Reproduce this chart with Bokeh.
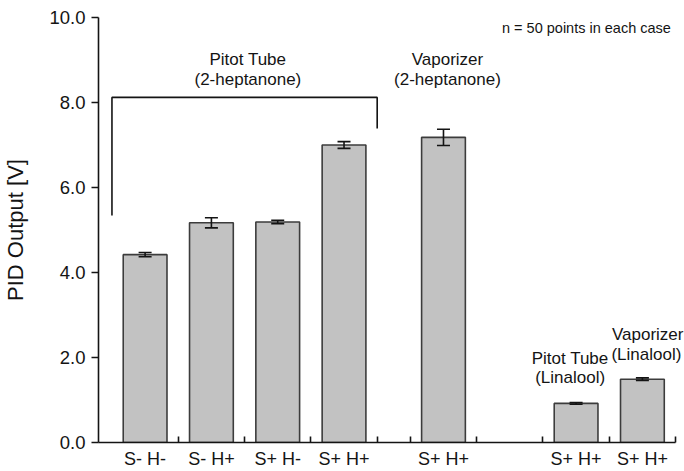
from bokeh.plotting import figure
from bokeh.models import ColumnDataSource, FixedTicker, Whisker, TeeHead, Range1d, Label
from bokeh.embed import file_html
from bokeh.resources import INLINE

# Measurement conditions and PID readings (mean and error)
conditions = ["S- H-", "S- H+", "S+ H-", "S+ H+", "S+ H+", "S+ H+", "S+ H+"]
positions = [0.5, 1.5, 2.5, 3.5, 5.0, 7.0, 8.0]
pid_mean = [4.42, 5.17, 5.19, 7.00, 7.18, 0.92, 1.49]
pid_err = [0.05, 0.12, 0.04, 0.08, 0.19, 0.02, 0.03]

# Group separators along the x axis
separators = [1, 2, 3, 4, 4.5, 5.5, 6.5, 7.5, 8.5]
y_ticks = [0, 2, 4, 6, 8, 10]

FONT = "Liberation Sans"
INK = "#141414"

src = ColumnDataSource(dict(
    x=positions,
    top=pid_mean,
    lower=[m - e for m, e in zip(pid_mean, pid_err)],
    upper=[m + e for m, e in zip(pid_mean, pid_err)],
))

p = figure(width=684, height=471, output_backend="svg", toolbar_location=None,
           x_range=Range1d(-0.203, 8.635), y_range=Range1d(0, 10),
           min_border_left=97, min_border_right=0, min_border_top=17,
           min_border_bottom=29)
p.outline_line_color = None
p.xgrid.visible = False
p.ygrid.visible = False
p.background_fill_color = "white"

p.vbar(x="x", top="top", width=0.66, bottom=0, source=src,
       fill_color="#c2c2c2", line_color="#3c3c3c", line_width=1.6)

whisker = Whisker(base="x", lower="lower", upper="upper", source=src, level="overlay",
                  line_color=INK, line_width=1.6,
                  upper_head=TeeHead(size=13, line_color=INK, line_width=1.6),
                  lower_head=TeeHead(size=13, line_color=INK, line_width=1.6))
p.add_layout(whisker)

# Bracket grouping the Pitot tube runs
p.line([0.0, 0.0, 4.0, 4.0], [5.34, 8.12, 8.12, 7.39], line_color=INK, line_width=1.6)

# Group annotations
def label(x, y, txt, size="17px", align="center"):
    p.add_layout(Label(x=x, y=y, text=txt, text_font=FONT, text_font_size=size,
                       text_color=INK, text_align=align, text_baseline="middle"))

label(2.05, 9.01, "Pitot Tube")
label(2.05, 8.55, "(2-heptanone)")
label(5.06, 9.01, "Vaporizer")
label(5.06, 8.55, "(2-heptanone)")
label(6.91, 1.98, "Pitot Tube")
label(6.91, 1.53, "(Linalool)")
label(8.08, 2.53, "Vaporizer")
label(8.06, 2.08, "(Linalool)")
label(8.43, 9.76, "n = 50 points in each case", size="14.5px", align="right")

# Axes
xa = p.xaxis[0]
xa.bounds = (-0.203, 8.5)
xa.ticker = FixedTicker(ticks=positions, minor_ticks=separators)
xa.major_label_overrides = {pos: lab for pos, lab in zip(positions, conditions)}
xa.major_tick_in = 0
xa.major_tick_out = 0
xa.minor_tick_in = 6
xa.minor_tick_out = 0
xa.minor_tick_line_color = INK
xa.minor_tick_line_width = 1.6
xa.axis_line_color = INK
xa.axis_line_width = 1.6
xa.major_label_standoff = 6
xa.major_label_text_font = FONT
xa.major_label_text_font_size = "18px"
xa.major_label_text_color = INK

ya = p.yaxis[0]
ya.ticker = FixedTicker(ticks=y_ticks, minor_ticks=[])
ya.major_label_overrides = {t: f"{t:.1f}" for t in y_ticks}
ya.major_tick_in = 0
ya.major_tick_out = 7
ya.major_tick_line_color = INK
ya.major_tick_line_width = 1.6
ya.axis_line_color = INK
ya.axis_line_width = 1.6
ya.major_label_standoff = 6
ya.major_label_text_font = FONT
ya.major_label_text_font_size = "18.5px"
ya.major_label_text_color = INK
ya.axis_label = "PID Output [V]"
ya.axis_label_text_font = FONT
ya.axis_label_text_font_size = "22px"
ya.axis_label_text_font_style = "normal"
ya.axis_label_text_color = INK
ya.axis_label_standoff = 18

open("out.html", "w").write(file_html(p, INLINE))
